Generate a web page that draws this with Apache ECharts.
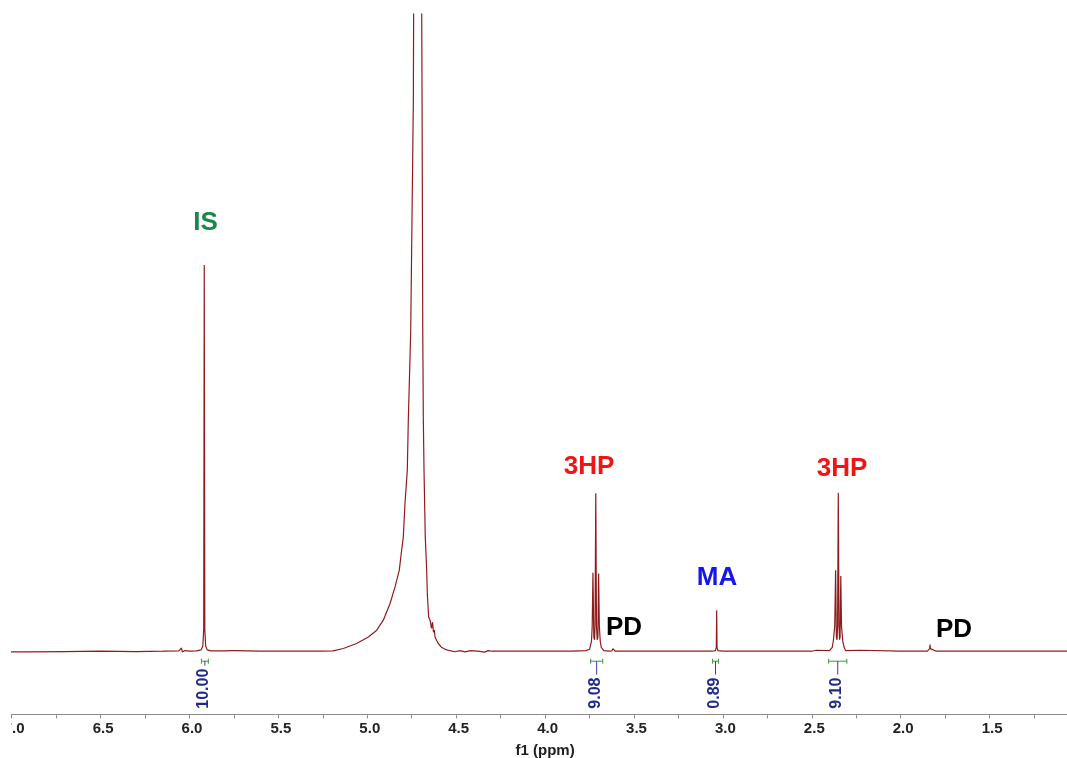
<!DOCTYPE html>
<html>
<head>
<meta charset="utf-8">
<script src="https://cdn.jsdelivr.net/npm/echarts@6/dist/echarts.min.js"></script>
<style>
  html, body { margin: 0; padding: 0; background: #fff; }
  #chart { width: 1067px; height: 758px; }
</style>
</head>
<body>
<div id="chart"></div>
<script>
// 1H NMR spectrum, chemical shift (ppm) vs. intensity (arbitrary units)
const spectrum = [
  [7.05, -0.1], [6.9, -0.1], [6.7, -0.05], [6.5, 0.0], [6.3, -0.05], [6.15, 0.0],
  [6.06, 0.05], [6.045, 0.5], [6.04, -0.1], [6.032, -0.4], [6.025, 0.1], [6.0, 0.0],
  [5.96, 0.05], [5.935, 0.2], [5.925, 0.8], [5.92, 3.5], [5.917, 60.6], [5.914, 3.5],
  [5.909, 0.8], [5.9, 0.2], [5.88, 0.05], [5.8, 0.05], [5.76, 0.1], [5.752, 0.3],
  [5.745, 0.1], [5.6, 0.0], [5.45, 0.0], [5.3, 0.0],
  // water
  [5.266, 0.0], [5.193, 0.05], [5.135, 0.42], [5.06, 1.21], [4.994, 2.24], [4.947, 3.3],
  [4.91, 4.87], [4.872, 7.49], [4.844, 10.09], [4.82, 12.72], [4.809, 15.38],
  [4.7975, 17.94], [4.788, 23.23], [4.775, 28.41], [4.769, 36.73], [4.756, 49.92],
  [4.741, 86.5], [4.736, 130], [4.718, 400], [4.698, 130], [4.694, 100], [4.692, 86.5],
  [4.688, 49.92], [4.685, 36.73], [4.681, 28.4], [4.674, 17.94], [4.666, 12.72],
  [4.6625, 9.06], [4.655, 5.38], [4.647, 4.87], [4.639, 3.6], [4.633, 4.55],
  [4.628, 2.98], [4.623, 3.3], [4.619, 2.24], [4.611, 1.73], [4.601, 1.21],
  [4.591, 0.94], [4.583, 0.63], [4.573, 0.42], [4.557, 0.24], [4.535, 0.08],
  [4.507, -0.08], [4.48, 0.1], [4.45, -0.1], [4.42, 0.1], [4.38, 0.0], [4.34, -0.15],
  [4.32, 0.1], [4.3, 0.0], [4.2, 0.0], [4.0, 0.0], [3.85, 0.0], [3.77, 0.1], [3.75, 0.3],
  // 3HP triplet
  [3.745, 0.6], [3.739, 1.6], [3.735, 4.0], [3.731, 12.3], [3.726, 2.2], [3.722, 1.8],
  [3.719, 4.0], [3.715, 24.8], [3.711, 4.0], [3.707, 1.8], [3.703, 2.2], [3.699, 12.2],
  [3.695, 4.0], [3.69, 1.6], [3.684, 0.6], [3.67, 0.1], [3.64, 0.0],
  [3.625, 0.05], [3.619, 0.4], [3.615, 0.1], [3.611, 0.3], [3.605, 0.0], [3.5, 0.0],
  [3.39, 0.0], [3.384, -0.3], [3.378, 0.0], [3.2, 0.0], [3.06, 0.0],
  // MA singlet
  [3.042, 0.1], [3.037, 0.6], [3.035, 6.44], [3.033, 0.6], [3.028, 0.1], [3.0, 0.0],
  [2.7, 0.0], [2.5, 0.0], [2.475, 0.15], [2.465, 0.0], [2.4, 0.1], [2.385, 0.6],
  // 3HP triplet
  [2.379, 1.6], [2.371, 4.0], [2.366, 12.7], [2.362, 2.2], [2.358, 1.8], [2.355, 4.0],
  [2.351, 24.85], [2.347, 4.0], [2.344, 1.8], [2.341, 2.2], [2.337, 11.8], [2.333, 4.0],
  [2.326, 1.6], [2.318, 0.6], [2.31, 0.1], [2.225, 0.15], [2.215, 0.0], [2.0, 0.0],
  // PD
  [1.85, 0.0], [1.84, 0.1], [1.837, 0.4], [1.835, 1.05], [1.833, 0.4], [1.83, 0.1],
  [1.8, 0.0], [1.72, 0.0], [1.71, 0.2], [1.7, 0.0], [1.5, 0.0], [1.3, 0.0], [1.0, 0.0]
];

// integration regions (ppm) and their integrals
const integralFrom = [5.933, 3.744, 3.058, 2.405];
const integralTo = [5.894, 3.676, 3.025, 2.303];
const integralValues = ['10.00', '9.08', '0.89', '9.10'];

// compound assignments
const peakNames = ['IS', '3HP', 'PD', 'MA', '3HP', 'PD'];

// ---- layout and styles ----
const nameAnchors = [
  [5.910, 67.2], [3.753, 28.9], [3.556, 3.69], [3.033, 11.46], [2.330, 28.57], [1.700, 3.30]
];
const nameColors = ['#178a48', '#f01414', '#000000', '#1515f0', '#f01414', '#000000'];

const FONT = '"Liberation Sans", Arial, Helvetica, sans-serif';
const integralFont = 'bold 16px ' + FONT;

const measureCtx = document.createElement('canvas').getContext('2d');
function textWidth(s, font) {
  measureCtx.font = font;
  return measureCtx.measureText(s).width;
}

const chart = echarts.init(document.getElementById('chart'), null, { renderer: 'canvas' });

chart.setOption({
  animation: false,
  backgroundColor: '#ffffff',
  grid: {
    left: 11.7,
    right: -11.5,
    top: 14,
    bottom: 43.7,
    containLabel: false,
    outerBoundsMode: 'none'
  },
  xAxis: {
    type: 'value',
    inverse: true,
    min: 1.0,
    max: 7.0,
    interval: 0.25,
    name: 'f1 (ppm)',
    nameLocation: 'middle',
    nameGap: 29,
    nameTextStyle: { fontFamily: FONT, fontWeight: 'bold', fontSize: 15, color: '#222' },
    axisLine: { onZero: false, lineStyle: { color: '#8a8a8a', width: 1 } },
    axisTick: { length: 4, lineStyle: { color: '#8a8a8a', width: 1 } },
    splitLine: { show: false },
    axisLabel: {
      margin: 7,
      fontFamily: FONT,
      fontWeight: 'bold',
      fontSize: 15,
      color: '#222',
      padding: [0, 0, 0, 5],
      showMinLabel: false,
      formatter: v => (Math.abs(v * 2 - Math.round(v * 2)) < 1e-6 ? v.toFixed(1) : '')
    }
  },
  yAxis: {
    type: 'value',
    min: -9.9,
    max: 100,
    show: false
  },
  series: [
    {
      name: 'spectrum',
      type: 'line',
      data: spectrum,
      showSymbol: false,
      clip: true,
      sampling: false,
      lineStyle: { color: '#8f1c1c', width: 1.2 },
      z: 2
    },
    {
      name: 'integrals',
      type: 'custom',
      data: integralFrom.map((f, i) => [f, integralTo[i], i]),
      encode: { x: [0, 1] },
      renderItem: (params, api) => {
        const a = api.coord([api.value(0), 0]);
        const b = api.coord([api.value(1), 0]);
        const yb = a[1] + 10;
        const xc = (a[0] + b[0]) / 2;
        const label = integralValues[api.value(2)];
        const yText = a[1] + 57.5;
        const len = textWidth(label, integralFont);
        const green = { stroke: '#3a9a3a', lineWidth: 1 };
        return {
          type: 'group',
          children: [
            { type: 'line', shape: { x1: a[0], y1: yb, x2: b[0], y2: yb }, style: green },
            { type: 'line', shape: { x1: a[0], y1: yb - 2.5, x2: a[0], y2: yb + 2.5 }, style: green },
            { type: 'line', shape: { x1: b[0], y1: yb - 2.5, x2: b[0], y2: yb + 2.5 }, style: green },
            { type: 'line', shape: { x1: xc, y1: yb, x2: xc, y2: yText - len - 3 },
              style: { stroke: '#3b3b9e', lineWidth: 1 } },
            { type: 'text', x: xc - 1, y: yText, rotation: Math.PI / 2,
              style: { text: label, font: integralFont, fill: '#1f2a8a',
                       align: 'left', verticalAlign: 'middle' } }
          ]
        };
      },
      z: 3
    },
    {
      name: 'assignments',
      type: 'custom',
      data: nameAnchors.map((p, i) => [p[0], p[1], i]),
      renderItem: (params, api) => {
        const p = api.coord([api.value(0), api.value(1)]);
        const i = api.value(2);
        return {
          type: 'text', x: p[0], y: p[1],
          style: { text: peakNames[i], fill: nameColors[i],
                   font: 'bold 26px ' + FONT, align: 'center', verticalAlign: 'middle' }
        };
      },
      z: 4
    }
  ],
  graphic: [
    { type: 'rect', left: 0, top: 716, shape: { width: 11, height: 26 },
      style: { fill: '#ffffff' }, z: 100 }
  ]
});
</script>
</body>
</html>
